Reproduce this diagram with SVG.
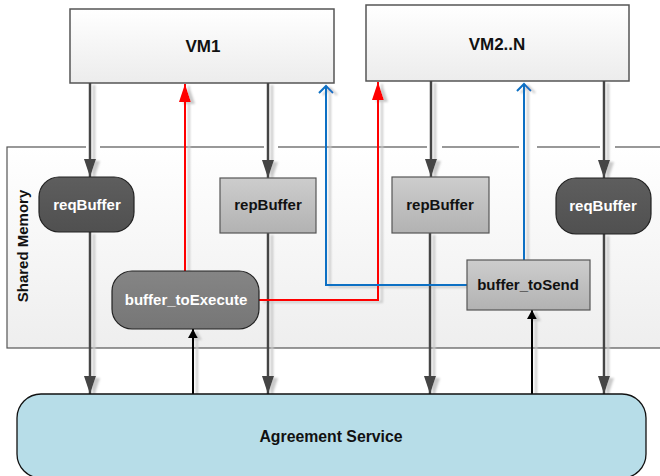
<svg xmlns="http://www.w3.org/2000/svg" width="660" height="476" viewBox="0 0 660 476">
  <defs>
    <linearGradient id="gVm" x1="0" y1="0" x2="0" y2="1">
      <stop offset="0" stop-color="#ffffff"/>
      <stop offset="1" stop-color="#ececec"/>
    </linearGradient>
    <linearGradient id="gPanel" x1="0" y1="0" x2="0" y2="1">
      <stop offset="0" stop-color="#ffffff"/>
      <stop offset="1" stop-color="#eeeeee"/>
    </linearGradient>
    <linearGradient id="gLight" x1="0" y1="0" x2="0" y2="1">
      <stop offset="0" stop-color="#cdcdcd"/>
      <stop offset="1" stop-color="#b2b2b2"/>
    </linearGradient>
    <linearGradient id="gDark" x1="0" y1="0" x2="0" y2="1">
      <stop offset="0" stop-color="#5e5e5e"/>
      <stop offset="1" stop-color="#505050"/>
    </linearGradient>
    <linearGradient id="gMid" x1="0" y1="0" x2="0" y2="1">
      <stop offset="0" stop-color="#858585"/>
      <stop offset="1" stop-color="#767676"/>
    </linearGradient>
    <filter id="shadow" x="-20%" y="-5%" width="160%" height="115%">
      <feOffset in="SourceAlpha" dx="4" dy="2" result="off"/>
      <feGaussianBlur in="off" stdDeviation="0.9" result="blur"/>
      <feFlood flood-color="#c9c9c9"/>
      <feComposite in2="blur" operator="in" result="sh"/>
      <feMerge>
        <feMergeNode in="sh"/>
        <feMergeNode in="SourceGraphic"/>
      </feMerge>
    </filter>
    <marker id="mGray" viewBox="0 0 12 18" refX="6" refY="18" markerWidth="12" markerHeight="18" markerUnits="userSpaceOnUse" orient="0">
      <path d="M0,0 L12,0 L6,18 Z" fill="#444"/>
    </marker>
    <marker id="mRed" viewBox="0 0 12 18" refX="6" refY="0" markerWidth="12" markerHeight="18" markerUnits="userSpaceOnUse" orient="0">
      <path d="M6,0 L12,18 L0,18 Z" fill="#ff0000"/>
    </marker>
    <marker id="mBlack" viewBox="0 0 10 9" refX="5" refY="0" markerWidth="10" markerHeight="9" markerUnits="userSpaceOnUse" orient="0">
      <path d="M5,0 L10,9 L0,9 Z" fill="#000"/>
    </marker>
    <style>
      .lbl { font-family: "Liberation Sans", Arial, sans-serif; font-weight: bold; font-size: 15px; text-anchor: middle; }
      .big { font-size: 17px; }
      .svc { font-size: 15.8px; }
      .w { fill: #ffffff; }
      .k { fill: #111111; }
      .gray { fill: none; stroke: #444; stroke-width: 2.5; }
      .red { fill: none; stroke: #ff0000; stroke-width: 2; }
      .blue { fill: none; stroke: #0a70c4; stroke-width: 2; }
      .black { fill: none; stroke: #000; stroke-width: 2; }
      .chev { fill: none; stroke: #0a70c4; stroke-width: 2; }
    </style>
  </defs>

  <rect width="660" height="476" fill="#ffffff"/>

  <!-- shared memory panel -->
  <g id="shared-memory">
    <rect x="7" y="147" width="670" height="201" fill="url(#gPanel)" stroke="#555" stroke-width="1.2"/>
    <!-- gaps where the thick connectors pass the border -->
    <g fill="#ffffff">
      <rect x="86" y="145" width="14" height="4"/>
      <rect x="264" y="145" width="14" height="4"/>
      <rect x="427" y="145" width="15" height="4"/>
      <rect x="519" y="145" width="18" height="4"/>
      <rect x="600" y="145" width="15" height="4"/>
    </g>
    <text class="lbl k" transform="translate(28,246) rotate(-90)">Shared Memory</text>
  </g>

  <g id="vm1">
    <rect x="70" y="9" width="264" height="74" fill="url(#gVm)" stroke="#555" stroke-width="1.5"/>
    <text class="lbl big k" x="203" y="52">VM1</text>
  </g>
  <g id="vm2n">
    <rect x="366" y="5" width="263" height="76" fill="url(#gVm)" stroke="#555" stroke-width="1.5"/>
    <text class="lbl big k" x="497" y="50">VM2..N</text>
  </g>

  <!-- connectors -->
  <g id="connectors" filter="url(#shadow)">
    <!-- VM to buffers -->
    <path class="gray" d="M90,83 V177" marker-end="url(#mGray)"/>
    <path class="gray" d="M268,83 V178" marker-end="url(#mGray)"/>
    <path class="gray" d="M431,81 V177" marker-end="url(#mGray)"/>
    <path class="gray" d="M604,81 V178" marker-end="url(#mGray)"/>
    <!-- buffers to agreement service -->
    <path class="gray" d="M90,232 V394" marker-end="url(#mGray)"/>
    <path class="gray" d="M268,233 V394" marker-end="url(#mGray)"/>
    <path class="gray" d="M430,233 V394" marker-end="url(#mGray)"/>
    <path class="gray" d="M604,234 V394" marker-end="url(#mGray)"/>
    <!-- agreement service to execute / send buffers -->
    <path class="black" d="M193,394 V329" marker-end="url(#mBlack)"/>
    <path class="black" d="M532,394 V310" marker-end="url(#mBlack)"/>
    <!-- execute buffer to VMs -->
    <path class="red" d="M185,271 V84" marker-end="url(#mRed)"/>
    <path class="red" d="M259,300 H378 V82" marker-end="url(#mRed)"/>
    <!-- send buffer to VMs -->
    <path class="blue" d="M524,260 V84"/>
    <path class="chev" d="M517,91 L524,84 L531,91"/>
    <path class="blue" d="M467,285 H326 V86"/>
    <path class="chev" d="M319,93 L326,86 L333,93"/>
  </g>

  <g id="reqBuffer1">
    <rect x="39" y="177" width="95" height="55" rx="20" fill="url(#gDark)" stroke="#222" stroke-width="1.2"/>
    <text class="lbl w" x="87" y="210">reqBuffer</text>
  </g>
  <g id="repBuffer1">
    <rect x="220" y="178" width="96" height="55" fill="url(#gLight)" stroke="#555" stroke-width="1.2"/>
    <text class="lbl k" x="268" y="210">repBuffer</text>
  </g>
  <g id="buffer_toExecute">
    <rect x="112" y="271" width="147" height="58" rx="20" fill="url(#gMid)" stroke="#222" stroke-width="1.2"/>
    <text class="lbl w" x="186" y="305">buffer_toExecute</text>
  </g>
  <g id="repBuffer2">
    <rect x="392" y="177" width="97" height="56" fill="url(#gLight)" stroke="#555" stroke-width="1.2"/>
    <text class="lbl k" x="440" y="210">repBuffer</text>
  </g>
  <g id="reqBuffer2">
    <rect x="556" y="178" width="95" height="56" rx="20" fill="url(#gDark)" stroke="#222" stroke-width="1.2"/>
    <text class="lbl w" x="603" y="211">reqBuffer</text>
  </g>
  <g id="buffer_toSend">
    <rect x="467" y="260" width="123" height="50" fill="url(#gLight)" stroke="#555" stroke-width="1.2"/>
    <text class="lbl k" x="528" y="290">buffer_toSend</text>
  </g>

  <g id="agreement-service">
    <rect x="17" y="394" width="629" height="84" rx="24" fill="#b7dde8" stroke="#111" stroke-width="1.3"/>
    <text class="lbl svc k" x="331" y="442">Agreement Service</text>
  </g>
</svg>
